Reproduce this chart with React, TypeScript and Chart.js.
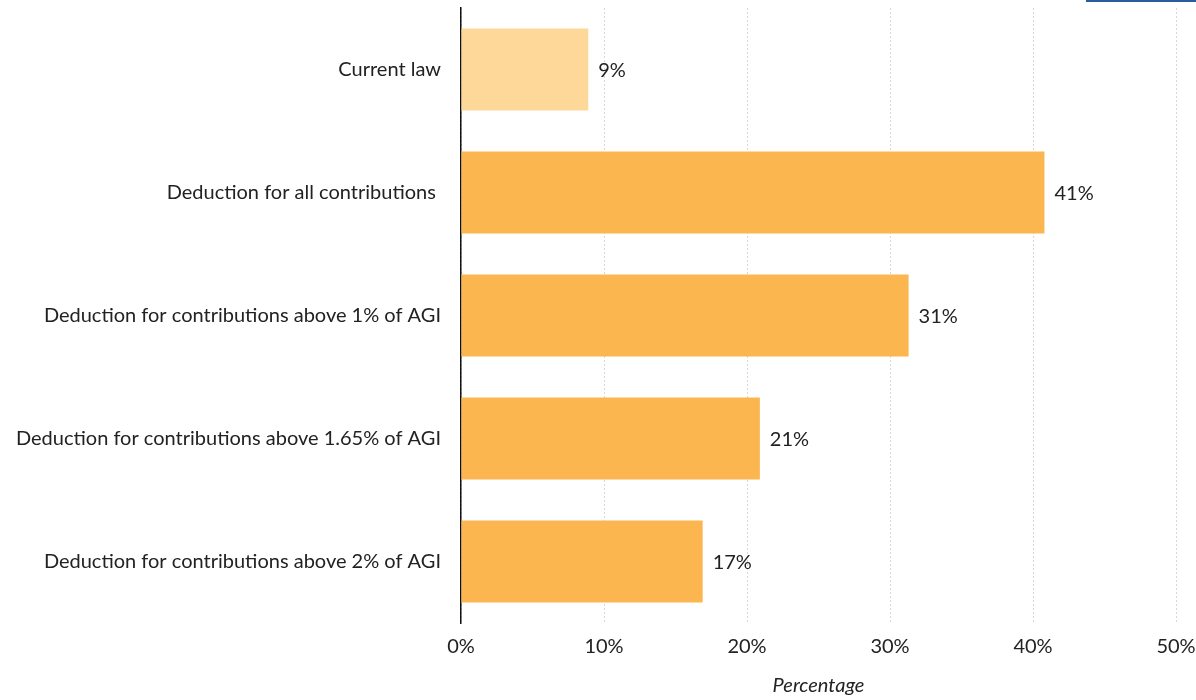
import React, { useEffect, useRef } from "react";
import { Chart, registerables } from "chart.js";

Chart.register(...registerables);

const categories = [
  "Current law",
  "Deduction for all contributions ",
  "Deduction for contributions above 1% of AGI",
  "Deduction for contributions above 1.65% of AGI",
  "Deduction for contributions above 2% of AGI",
];
const values = [8.9, 40.8, 31.3, 20.9, 16.9];
const valueLabels = ["9%", "41%", "31%", "21%", "17%"];
const barColors = ["#FED899", "#FBB64F", "#FBB64F", "#FBB64F", "#FBB64F"];
const xTicks = [0, 10, 20, 30, 40, 50];

const FONT = "Lato, 'Open Sans', sans-serif";
const FS = 20;

const labelPlugin = {
  id: "valueLabels",
  afterDatasetsDraw(chart: any) {
    const ctx = chart.ctx;
    const meta = chart.getDatasetMeta(0);
    ctx.save();
    ctx.font = `${FS}px ${FONT}`;
    ctx.fillStyle = "#222222";
    ctx.textAlign = "left";
    ctx.textBaseline = "middle";
    meta.data.forEach((bar: any, i: number) => {
      ctx.fillText(valueLabels[i], bar.x + 10, bar.y + 1);
    });
    ctx.restore();
  },
};

export default function App() {
  const ref = useRef<HTMLCanvasElement | null>(null);
  useEffect(() => {
    document.body.style.margin = "0";
    const chart = new Chart(ref.current as HTMLCanvasElement, {
      type: "bar",
      data: {
        labels: categories,
        datasets: [
          {
            data: values,
            backgroundColor: barColors,
            categoryPercentage: 1,
            barPercentage: 0.667,
          },
        ],
      },
      options: {
        indexAxis: "y",
        animation: false,
        responsive: false,
        maintainAspectRatio: false,
        layout: { padding: { top: 8, right: 20, left: 0, bottom: 0 } },
        plugins: {
          legend: { display: false },
          tooltip: { enabled: false },
        },
        scales: {
          x: {
            min: 0,
            max: 50,
            afterBuildTicks: (s: any) => {
              s.ticks = xTicks.map((v) => ({ value: v }));
            },
            afterFit: (s: any) => {
              s.height = 77;
              s.paddingLeft = 0;
              s.paddingRight = 0;
            },
            ticks: {
              callback: (v: any) => `${v}%`,
              color: "#222222",
              font: { family: FONT, size: FS },
              padding: 12,
              maxRotation: 0,
            },
            grid: {
              color: "#d8d8d8",
              lineWidth: 1,
              drawTicks: false,
            },
            border: { display: false, dash: [2, 2] },
            title: {
              display: true,
              text: "Percentage",
              color: "#222222",
              font: { family: FONT, size: FS, style: "italic" },
              padding: { top: 0, bottom: 2 },
            },
          },
          y: {
            afterFit: (s: any) => {
              s.width = 461;
              s.paddingTop = 0;
              s.paddingBottom = 0;
            },
            ticks: {
              color: "#222222",
              font: { family: FONT, size: FS },
              padding: 20,
            },
            grid: { display: false, drawTicks: false },
            border: { display: true, color: "#111111", width: 1.5 },
          },
        },
      } as any,
      plugins: [labelPlugin],
    });
    return () => chart.destroy();
  }, []);
  return (
    <div style={{ position: "relative", width: 1196, height: 700 }}>
      <canvas ref={ref} width={1196} height={700} style={{ display: "block" }} />
      <div
        style={{
          position: "absolute",
          left: 1086,
          top: 0,
          width: 110,
          height: 2,
          background: "#2B5C9E",
        }}
      />
    </div>
  );
}
